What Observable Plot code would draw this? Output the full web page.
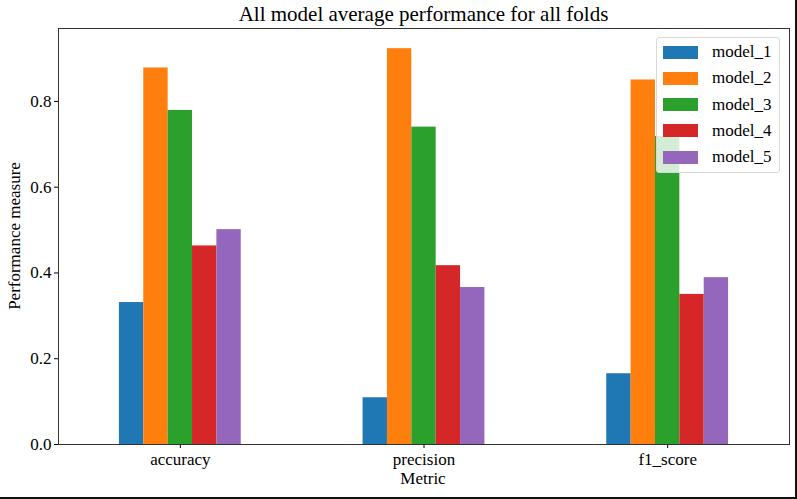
<!DOCTYPE html>
<html><head><meta charset="utf-8">
<script src="https://cdn.jsdelivr.net/npm/d3@7"></script>
<script src="https://cdn.jsdelivr.net/npm/@observablehq/plot@0.6"></script>
<style>
body{margin:0;background:#fff;font-family:"Liberation Serif","Times New Roman",serif;}
#wrap{position:relative;width:797px;height:499px;overflow:hidden;background:#fff;}
#wrap svg{position:absolute;left:0;top:0;}
#wrap svg text, #wrap svg g{font-family:"Liberation Serif","Times New Roman",serif !important;font-size:17px !important;font-variant:normal !important;font-variant-numeric:normal !important;}
#wrap svg text{fill:#000;}
.title{position:absolute;left:58px;width:731px;top:2px;text-align:center;font-size:21px;color:#000;line-height:24px;}
.ylab{position:absolute;left:15px;top:236px;transform:translate(-50%,-50%) rotate(-90deg);font-size:17px;white-space:nowrap;color:#000;}
.xlab{position:absolute;left:423px;top:479px;transform:translate(-50%,-50%);font-size:17px;color:#000;}
.legend{position:absolute;left:656px;top:37px;width:124px;height:136px;background:rgba(255,255,255,0.8);border:1px solid #d8d8d8;border-radius:3px;box-sizing:border-box;}
.legend .row{position:absolute;left:6px;height:26px;display:flex;align-items:center;font-size:17px;color:#000;}
.legend .sw{width:35px;height:13px;margin-right:14px;}
.border{position:absolute;left:0;top:0;width:797px;height:499px;border-right:2px solid #111;border-bottom:2px solid #111;box-sizing:border-box;pointer-events:none;}
</style></head><body>
<div id="wrap">
  <div class="title">All model average performance for all folds</div>
</div>
<script>
const metrics = ["accuracy", "precision", "f1_score"];
const models = ["model_1", "model_2", "model_3", "model_4", "model_5"];
const model_1 = [0.331, 0.109, 0.165];
const model_2 = [0.878, 0.923, 0.850];
const model_3 = [0.779, 0.740, 0.718];
const model_4 = [0.463, 0.417, 0.350];
const model_5 = [0.501, 0.366, 0.389];
const yTicks = [0.0, 0.2, 0.4, 0.6, 0.8];
const colors = ["#1f77b4", "#ff7f0e", "#2ca02c", "#d62728", "#9467bd"];

const series = [model_1, model_2, model_3, model_4, model_5];
const groupWidth = 0.5;
const barW = groupWidth / models.length;
const data = [];
models.forEach((m, i) => metrics.forEach((k, j) => data.push({metric: k, model: m, value: series[i][j], mi: j, ki: i})));

const serif = '"Liberation Serif","Times New Roman",serif';
const chart = Plot.plot({
  width: 797, height: 499,
  marginTop: 28, marginBottom: 55, marginLeft: 58, marginRight: 8,
  style: {fontFamily: serif, fontSize: "17px", color: "#000", background: "transparent", overflow: "visible"},
  x: {domain: [-0.5, metrics.length - 0.5], ticks: metrics.map((d, j) => j), tickFormat: j => metrics[j], label: null, tickSize: 4, tickPadding: 4},
  y: {domain: [0, 0.97], ticks: yTicks, tickFormat: ".1f", label: null, tickSize: 4, tickPadding: 3},
  color: {domain: models, range: colors},
  marks: [
    Plot.rectY(data, {
      x1: d => d.mi - groupWidth / 2 + d.ki * barW,
      x2: d => d.mi - groupWidth / 2 + (d.ki + 1) * barW,
      y: "value", fill: "model"
    }),
    Plot.frame({stroke: "#333", strokeWidth: 1})
  ]
});
const wrap = document.getElementById("wrap");
wrap.appendChild(chart);

const yl = document.createElement("div"); yl.className = "ylab"; yl.textContent = "Performance measure"; wrap.appendChild(yl);
const xl = document.createElement("div"); xl.className = "xlab"; xl.textContent = "Metric"; wrap.appendChild(xl);

const legend = document.createElement("div"); legend.className = "legend";
models.forEach((m, i) => {
  const row = document.createElement("div"); row.className = "row";
  row.style.top = (1 + i * 26.3) + "px";
  const sw = document.createElement("span"); sw.className = "sw"; sw.style.background = colors[i];
  const t = document.createElement("span"); t.textContent = m;
  row.appendChild(sw); row.appendChild(t); legend.appendChild(row);
});
wrap.appendChild(legend);
const b = document.createElement("div"); b.className = "border"; wrap.appendChild(b);
</script>
</body></html>
